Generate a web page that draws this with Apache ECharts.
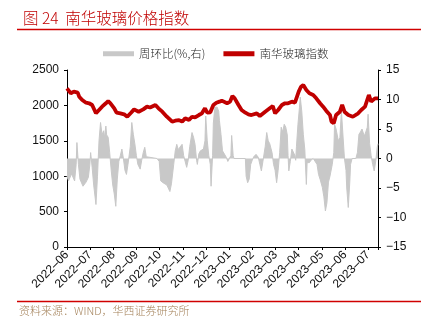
<!DOCTYPE html>
<html>
<head>
<meta charset="utf-8">
<script src="https://cdn.jsdelivr.net/npm/echarts@6/dist/echarts.min.js"></script>
<style>
html,body{margin:0;padding:0;background:#fff;}
#c{width:430px;height:325px;}
</style>
</head>
<body>
<div id="c"></div>
<script>
// x values: days since 2022-06-01
const tickLabels = ['2022-06','2022-07','2022-08','2022-09','2022-10','2022-11','2022-12','2023-01','2023-02','2023-03','2023-04','2023-05','2023-06','2023-07'];
const monthLen = 30.4;

const indexDays = [0,1,5,9,14,16,20,25,29,33,38,42,46,51,54,57,62,65,70,75,79,84,88,94,100,105,109,116,120,125,131,138,142,147,151,155,160,164,168,173,177,181,184,188,192,196,200,203,210,214,217,220,225,229,234,238,242,249,253,260,266,270,273,277,282,286,290,295,299,304,307,310,314,318,323,327,332,336,340,345,347,350,353,358,361,364,369,375,382,386,391,396,399,404,408];
const indexValues = [2241,2264,2171,2194,2180,2123,2076,2038,2030,2006,1888,1935,1982,2030,2062,2030,1959,1897,1888,1874,1840,1897,1944,1911,1944,1982,1970,2006,1959,1911,1840,1770,1784,1793,1770,1817,1793,1840,1830,1864,1888,1959,1897,1902,2006,2038,2053,2067,2030,2053,2133,2100,2006,1935,1897,1874,1864,1888,1850,1911,1959,1991,1888,1935,2006,2030,2030,2053,2040,2194,2264,2288,2218,2171,2147,2100,2030,1982,1925,1864,1770,1747,1864,1911,2006,1911,1864,1840,1888,1935,1982,2147,2053,2100,2100];

const wowDays = [0,2,6,10,12,13,15,17,21,25,28,30,31,33,35,38,40,42,44,46,48,49,51,52,54,56,58,60,62,64,66,68,70,72,74,76,78,80,83,85,87,89,91,93,96,98,100,102,104,106,118,121,123,126,131,133,135,137,140,142,144,146,148,151,153,155,157,159,161,164,166,168,170,171,173,175,177,179,181,182,184,186,188,189,191,192,194,197,199,200,202,204,206,209,211,213,215,216,218,219,234,235,237,239,241,243,245,248,251,253,255,257,260,262,264,266,269,271,273,275,277,279,281,283,285,287,289,290,291,293,295,297,299,300,301,303,305,306,308,310,312,314,315,318,320,323,328,330,332,335,337,339,341,343,345,348,350,351,353,356,358,360,362,364,366,367,369,371,372,374,379,381,383,385,387,390,392,394,395,397,399,401,403,405,407,408];
const wowValues = [-3.0,-3.8,-2.6,-3.8,-1,2.7,-1,-3.5,-4.7,-4,-3.2,-1,1.0,-1.5,-4.5,-7.8,-3,3,6.1,4,4.7,3.5,5.5,4,3.6,1,-2,-4.5,-6,-8.1,-3.5,-0.5,0.5,1.6,0,-2,-2.7,-1,2,6.1,4.1,2.5,0.5,-1,-1.8,-0.3,1,1.9,0.3,0,0,-0.5,-3.8,-4.1,-4.5,-4.2,-5.6,-4.3,-1,1.3,2.4,1.5,1.9,2.4,0.5,-0.5,-1.5,-0.3,2,4.4,3.6,2.4,-0.3,-1,0.8,1.3,1.0,1.6,3,7.2,3,0.5,-1,-4.7,0.5,6,8.7,8.7,8,6.4,4.1,1.3,1.0,0.2,-0.5,-0.5,0.5,3.9,0.5,0,0,-3,-4.1,-3.5,-1,-0.3,0.3,0.7,0.2,-1,-2.1,-0.5,2,4.4,3,2.5,1,-1,-2,-4.1,-2,1,5.3,4.5,5.8,5.3,4,0.5,-2.1,-0.5,1.6,1.9,0.5,-0.3,2,5.8,8.7,10.4,8,4.1,1.5,-4.4,-0.7,-0.7,-0.3,0,-1,-2.7,-3.5,-4.9,-6.5,-8.9,-7.5,-4,-3,-1,1,5.8,5,3,3.5,8.1,4,0,-2,-5,-8.3,-4,-1,0,0,1,4.1,4.5,5,3.8,4.5,5.3,7.5,2.5,0.5,-1,-2.1,-0.5,1.9,2.5];

const pair = (xs, ys) => xs.map((x, i) => [x, ys[i]]);
const FONT = '"Liberation Sans", Arial, sans-serif';
const CJK = '"Noto Sans CJK SC", "Liberation Sans", sans-serif';

const chart = echarts.init(document.getElementById('c'), null, {renderer: 'canvas'});
chart.setOption({
  animation: false,
  backgroundColor: '#fff',
  title: {
    text: '图 24  南华玻璃价格指数',
    left: 18, top: 5,
    textStyle: {color: '#c00000', fontSize: 15.5, fontWeight: 300, fontFamily: CJK}
  },
  graphic: [
    {type: 'line', shape: {x1: 17, y1: 29.5, x2: 421, y2: 29.5}, style: {stroke: '#d00000', lineWidth: 1.6}},
    {type: 'line', shape: {x1: 17, y1: 301.5, x2: 421, y2: 301.5}, style: {stroke: '#d00000', lineWidth: 1.6}},
    {type: 'text', left: 19, top: 305, style: {text: '资料来源：WIND，华西证券研究所', fill: '#a4825a', font: '300 11px ' + CJK}}
  ],
  legend: {
    top: 43, left: 98,
    itemWidth: 31, itemHeight: 5, itemGap: 18,
    textStyle: {fontSize: 11.5, color: '#222', fontFamily: CJK, fontWeight: 300},
    data: [
      {name: '周环比(%,右)', icon: 'rect', itemStyle: {color: '#c8c8c8'}},
      {name: '南华玻璃指数', icon: 'rect', itemStyle: {color: '#c00000'}}
    ]
  },
  grid: {left: 67, right: 52, top: 70, bottom: 78, containLabel: false},
  xAxis: {
    type: 'value', min: 0, max: 408, interval: monthLen,
    axisLine: {lineStyle: {color: '#000', width: 1}},
    axisTick: {show: true, length: 3, lineStyle: {color: '#000'}},
    splitLine: {show: false},
    axisLabel: {
      rotate: 45, fontSize: 12, color: '#111', fontFamily: FONT, margin: 6,
      formatter: function (v) {
        const k = v / monthLen;
        const r = Math.round(k);
        if (Math.abs(k - r) > 0.01) return '';
        return tickLabels[r] ? tickLabels[r].replace('-', '–') : '';
      }
    }
  },
  yAxis: [
    {
      type: 'value', min: 0, max: 2500, interval: 500,
      axisLine: {show: true, lineStyle: {color: '#000'}},
      axisTick: {show: true, length: 3, lineStyle: {color: '#000'}},
      splitLine: {show: false},
      axisLabel: {fontSize: 12, color: '#111', fontFamily: FONT, margin: 8, formatter: v => String(v)}
    },
    {
      type: 'value', min: -15, max: 15, interval: 5,
      axisLine: {show: true, lineStyle: {color: '#000'}},
      axisTick: {show: true, length: 3, lineStyle: {color: '#000'}},
      splitLine: {show: false},
      axisLabel: {fontSize: 12, color: '#111', fontFamily: FONT, margin: 8,
        formatter: v => String(v).replace('-', '−')}
    }
  ],
  series: [
    {
      name: '周环比(%,右)', type: 'line', yAxisIndex: 1,
      data: pair(wowDays, wowValues),
      showSymbol: false, symbol: 'none',
      lineStyle: {color: '#c8c8c8', width: 1},
      itemStyle: {color: '#c8c8c8'},
      areaStyle: {color: '#c8c8c8', opacity: 1},
      z: 1
    },
    {
      name: '南华玻璃指数', type: 'line', yAxisIndex: 0,
      data: pair(indexDays, indexValues),
      showSymbol: false, symbol: 'none',
      lineStyle: {color: '#c00000', width: 3.8},
      itemStyle: {color: '#c00000'},
      z: 3
    }
  ]
});
</script>
</body>
</html>
